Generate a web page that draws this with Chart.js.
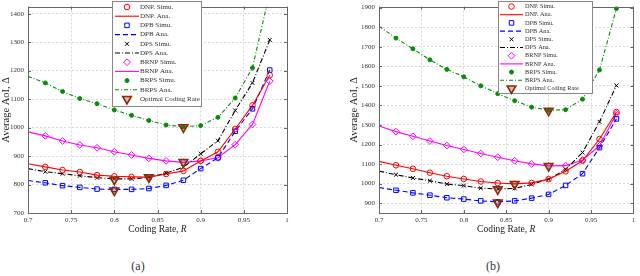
<!DOCTYPE html>
<html>
<head>
<meta charset="utf-8">
<script src="https://cdn.jsdelivr.net/npm/chart.js@4.4.0/dist/chart.umd.min.js"></script>
<style>
  body { margin: 0; background: #fff; width: 640px; height: 276px; position: relative; overflow: hidden; }
  canvas { position: absolute; top: 0; }
  .cap { position: absolute; top: 259px; font: 12px 'Liberation Serif', serif; color: #333; transform: translateX(-50%); }
</style>
</head>
<body>
<canvas id="chartA" style="left:0" width="320" height="235"></canvas>
<canvas id="chartB" style="left:320px" width="320" height="235"></canvas>
<div class="cap" style="left:138px">(a)</div>
<div class="cap" style="left:493px">(b)</div>
<script>
// coding rate R (x axis), simulation points start at 0.72
const codingRate = [0.70, 0.72, 0.74, 0.76, 0.78, 0.80, 0.82, 0.84, 0.86, 0.88, 0.90, 0.92, 0.94, 0.96, 0.98];
const xTicks = [0.7, 0.75, 0.8, 0.85, 0.9, 0.95, 1];
const xTickLabels = ['0.7', '0.75', '0.8', '0.85', '0.9', '0.95', '1'];

// subplot (a)
const yTicksA = [700, 800, 900, 1000, 1100, 1200, 1300, 1400];
const dnpA  = [873, 862, 851, 844, 833, 829, 827, 826, 837, 848, 883, 915, 995, 1078, 1184];
const dpbA  = [814, 806, 796, 790, 784, 783, 783, 786, 797, 815, 856, 894, 987, 1066, 1202];
const dpsA  = [856, 845, 838, 831, 824, 820, 820, 825, 840, 861, 908, 954, 1060, 1157, 1308];
const brnpA = [985, 971, 953, 939, 929, 915, 904, 892, 883, 878, 883, 894, 940, 1011, 1163];
const brpsA = [1180, 1157, 1127, 1102, 1084, 1062, 1043, 1025, 1009, 1003, 1007, 1036, 1104, 1210, 1475];
const optRateA = [0.84, 0.80, 0.80, 0.88, 0.88];
const optAoIA  = [825, 779, 817, 879, 1001];

// subplot (b)
const yTicksB = [900, 1000, 1100, 1200, 1300, 1400, 1500, 1600, 1700, 1800, 1900];
const dnpB  = [1114, 1094, 1076, 1056, 1038, 1024, 1011, 1003, 999, 1004, 1023, 1063, 1117, 1228, 1366];
const dpbB  = [980, 966, 953, 941, 928, 921, 912, 907, 912, 926, 945, 991, 1051, 1184, 1331];
const dpsB  = [1064, 1046, 1029, 1015, 998, 990, 977, 973, 976, 996, 1023, 1072, 1159, 1316, 1502];
const brnpB = [1295, 1266, 1242, 1218, 1195, 1175, 1154, 1135, 1117, 1101, 1091, 1092, 1121, 1193, 1358];
const brpsB = [1805, 1744, 1689, 1633, 1584, 1546, 1500, 1460, 1424, 1391, 1375, 1378, 1432, 1581, 1895];
const optRateB = [0.86, 0.84, 0.84, 0.90, 0.90];
const optAoIB  = [998, 903, 971, 1090, 1373];

const schemes = ['DNP.', 'DPB', 'DPS', 'BRNP', 'BRPS'];

const styles = [
  { color: '#ff0000', point: 'circle',   r: 2.8, fill: 'rgba(0,0,0,0)', dash: [] },
  { color: '#0000ff', point: 'rect',     r: 3.2, fill: 'rgba(0,0,0,0)', dash: [5, 3] },
  { color: '#000000', point: 'crossRot', r: 2.8, fill: 'rgba(0,0,0,0)', dash: [5, 2, 1, 2] },
  { color: '#ff00ff', point: 'rectRot',  r: 3.4, fill: 'rgba(0,0,0,0)', dash: [] },
  { color: '#0a8a0a', point: 'circle',   r: 2.0, fill: '#0a8a0a',       dash: [4, 2, 1, 2] },
];

function buildDatasets(series, optRate, optAoI) {
  const ds = [];
  series.forEach((vals, i) => {
    const st = styles[i];
    ds.push({
      label: schemes[i] + ' Simu.',
      data: codingRate.slice(1).map((x, j) => ({ x: x, y: vals[j + 1] })),
      showLine: false,
      pointStyle: st.point,
      pointRadius: st.r,
      borderColor: st.color,
      backgroundColor: st.fill,
      pointBorderWidth: 1,
      order: 1,
    });
    ds.push({
      label: schemes[i] + ' Ana.',
      data: codingRate.map((x, j) => ({ x: x, y: vals[j] })),
      borderColor: st.color,
      borderWidth: 1.1,
      borderDash: st.dash,
      pointRadius: 0,
      fill: false,
      order: 2,
    });
  });
  ds.push({
    label: 'Optimal Coding Rate',
    data: optRate.map((x, j) => ({ x: x, y: optAoI[j] })),
    showLine: false,
    pointStyle: 'triangle',
    rotation: 180,
    pointRadius: 5,
    borderColor: '#8b2c0c',
    backgroundColor: 'rgba(150,60,30,0.35)',
    pointBorderWidth: 1.6,
    order: 0,
  });
  return ds;
}

// draw one marker the same way the points look
function drawMarker(ctx, ds, x, y) {
  const r = ds.pointRadius;
  ctx.save();
  ctx.setLineDash([]);
  ctx.strokeStyle = ds.borderColor;
  ctx.fillStyle = ds.backgroundColor;
  ctx.lineWidth = ds.pointBorderWidth;
  ctx.beginPath();
  if (ds.pointStyle === 'circle') {
    ctx.arc(x, y, r, 0, Math.PI * 2);
  } else if (ds.pointStyle === 'rect') {
    const s = r * Math.SQRT1_2;
    ctx.rect(x - s, y - s, 2 * s, 2 * s);
  } else if (ds.pointStyle === 'rectRot') {
    ctx.moveTo(x - r, y); ctx.lineTo(x, y - r); ctx.lineTo(x + r, y); ctx.lineTo(x, y + r); ctx.closePath();
  } else if (ds.pointStyle === 'crossRot') {
    const s = r * Math.SQRT1_2;
    ctx.moveTo(x - s, y - s); ctx.lineTo(x + s, y + s);
    ctx.moveTo(x + s, y - s); ctx.lineTo(x - s, y + s);
  } else if (ds.pointStyle === 'triangle') {
    ctx.moveTo(x, y + r);
    ctx.lineTo(x - 0.866 * r, y - 0.5 * r);
    ctx.lineTo(x + 0.866 * r, y - 0.5 * r);
    ctx.closePath();
  }
  ctx.fill();
  ctx.stroke();
  ctx.restore();
}

// box round the plot with inward ticks, plus x title with italic R
const framePlugin = {
  id: 'frame',
  afterDatasetsDraw(chart) {
    const ctx = chart.ctx;
    const a = chart.chartArea;
    const xs = chart.scales.x, ys = chart.scales.y;
    ctx.save();
    ctx.strokeStyle = '#666';
    ctx.lineWidth = 1;
    ctx.setLineDash([]);
    ctx.strokeRect(Math.round(a.left) + 0.5, Math.round(a.top) + 0.5, Math.round(a.right - a.left), Math.round(a.bottom - a.top));
    ctx.beginPath();
    xTicks.forEach(v => {
      const px = Math.round(xs.getPixelForValue(v)) + 0.5;
      ctx.moveTo(px, a.bottom); ctx.lineTo(px, a.bottom - 3);
      ctx.moveTo(px, a.top); ctx.lineTo(px, a.top + 3);
    });
    ys.ticks.forEach(t => {
      const py = Math.round(ys.getPixelForValue(t.value)) + 0.5;
      ctx.moveTo(a.left, py); ctx.lineTo(a.left + 3, py);
      ctx.moveTo(a.right, py); ctx.lineTo(a.right - 3, py);
    });
    ctx.stroke();

    // x axis title
    const t1 = 'Coding Rate, ', t2 = 'R';
    ctx.fillStyle = '#222';
    ctx.textBaseline = 'middle';
    ctx.font = "9.5px 'Liberation Serif'";
    const w1 = ctx.measureText(t1).width;
    ctx.font = "italic 9.5px 'Liberation Serif'";
    const w2 = ctx.measureText(t2).width;
    const x0 = (a.left + a.right) / 2 - (w1 + w2) / 2;
    const ty = 229;
    ctx.font = "9.5px 'Liberation Serif'";
    ctx.fillText(t1, x0, ty);
    ctx.font = "italic 9.5px 'Liberation Serif'";
    ctx.fillText(t2, x0 + w1, ty);
    ctx.restore();
  },
};

// legend box inside the plot
const boxLegend = {
  id: 'boxLegend',
  afterDraw(chart, args, o) {
    const ctx = chart.ctx;
    ctx.save();
    ctx.fillStyle = '#fff';
    ctx.fillRect(o.x, o.y, o.w, o.h);
    ctx.strokeStyle = '#888';
    ctx.lineWidth = 1;
    ctx.strokeRect(o.x + 0.5, o.y + 0.5, o.w, o.h);
    ctx.font = o.font + "px 'Liberation Serif'";
    ctx.textBaseline = 'middle';
    chart.data.datasets.forEach((ds, i) => {
      const cy = o.y + o.first + i * o.row;
      if (ds.showLine === false) {
        drawMarker(ctx, ds, (o.lineFrom + o.lineTo) / 2, cy);
      } else {
        ctx.save();
        ctx.strokeStyle = ds.borderColor;
        ctx.lineWidth = ds.borderWidth;
        ctx.setLineDash(ds.borderDash || []);
        ctx.beginPath();
        ctx.moveTo(o.lineFrom, cy);
        ctx.lineTo(o.lineTo, cy);
        ctx.stroke();
        ctx.restore();
      }
      ctx.fillStyle = '#333';
      ctx.fillText(ds.label, o.textX, cy);
    });
    ctx.restore();
  },
};

function makeChart(id, datasets, yMin, yMax, yTicks, pad, yWidth, legend) {
  return new Chart(document.getElementById(id), {
    type: 'line',
    data: { datasets: datasets },
    plugins: [framePlugin, boxLegend],
    options: {
      responsive: false,
      animation: false,
      events: [],
      layout: { padding: pad },
      plugins: {
        legend: { display: false },
        tooltip: { enabled: false },
        boxLegend: legend,
      },
      scales: {
        x: {
          type: 'linear',
          min: 0.7,
          max: 1,
          afterBuildTicks: (s) => { s.ticks = xTicks.map(v => ({ value: v })); },
          afterFit: (s) => { s.height = 22; s.paddingLeft = 0; s.paddingRight = 0; },
          ticks: {
            padding: 3,
            color: '#333',
            font: { family: 'Liberation Serif', size: 7 },
            maxRotation: 0,
            callback: (v) => xTickLabels[xTicks.indexOf(v)],
          },
          grid: { color: '#d8d8d8', drawTicks: false },
          border: { display: false, dash: [2, 2] },
        },
        y: {
          type: 'linear',
          min: yMin,
          max: yMax,
          afterBuildTicks: (s) => { s.ticks = yTicks.map(v => ({ value: v })); },
          afterFit: (s) => { s.width = yWidth; s.paddingTop = 0; s.paddingBottom = 0; },
          ticks: {
            padding: 4,
            color: '#333',
            font: { family: 'Liberation Serif', size: 7 },
            callback: (v) => String(v),
          },
          grid: { color: '#d8d8d8', drawTicks: false },
          border: { display: false, dash: [2, 2] },
          title: {
            display: true,
            text: 'Average AoI, Δ',
            color: '#222',
            font: { family: 'Liberation Serif', size: 10.5 },
            padding: 0,
          },
        },
      },
    },
  });
}

makeChart('chartA',
  buildDatasets([dnpA, dpbA, dpsA, brnpA, brpsA], optRateA, optAoIA),
  700, 1425, yTicksA,
  { top: 2, right: 33, left: 0, bottom: 0 }, 28,
  { x: 112, y: 1, w: 89, h: 105, first: 6, row: 9.2, lineFrom: 115, lineTo: 139, textX: 140, font: 7 });

makeChart('chartB',
  buildDatasets([dnpB, dpbB, dpsB, brnpB, brpsB], optRateB, optAoIB),
  850, 1905, yTicksB,
  { top: 2, right: 2, left: 28, bottom: 0 }, 31,
  { x: 178, y: 1, w: 94, h: 92, first: 5.5, row: 8.2, lineFrom: 180, lineTo: 203, textX: 205, font: 6.3 });
</script>
</body>
</html>
